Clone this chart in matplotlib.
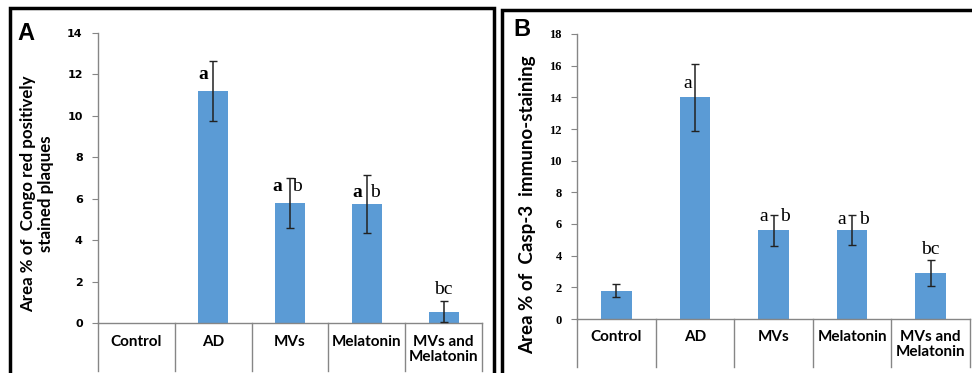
import matplotlib
matplotlib.use("Agg")
import matplotlib.pyplot as plt
import matplotlib.patches as patches
import matplotlib.transforms as mtransforms

groups = ["Control", "AD", "MVs", "Melatonin", "MVs and\nMelatonin"]

# panel A: Congo red
mean_a = [0.0, 11.2, 5.8, 5.75, 0.55]
err_a = [0.0, 1.45, 1.2, 1.4, 0.5]
# panel B: Casp-3
mean_b = [1.8, 14.0, 5.6, 5.6, 2.9]
err_b = [0.4, 2.1, 1.0, 0.95, 0.8]

# significance letters: (group, text, bold, y)
letters_a = [(1, "a", True, 12.0), (2, "a", True, 6.6), (2, "b", False, 6.6),
             (3, "a", True, 6.3), (3, "b", False, 6.3), (4, "bc", False, 1.6)]
letters_b = [(1, "a", False, 14.9), (2, "a", False, 6.45), (2, "b", False, 6.45),
             (3, "a", False, 6.3), (3, "b", False, 6.3), (4, "bc", False, 4.4)]
# x offsets for letters in category units
offs_a = [-0.13, -0.16, 0.09, -0.13, 0.10, 0.0]
offs_b = [-0.09, -0.12, 0.15, -0.13, 0.15, 0.0]

bar_color = "#5B9BD5"
axis_gray = "#868686"

fig = plt.figure(figsize=(9.72, 3.73), dpi=100)


def panel(rect, means, errs, ymax, ystep, letters, offs, tickfont, ticksize, line_drop):
    ax = fig.add_axes(rect)
    x = range(len(groups))
    ax.bar(x, means, width=0.39, color=bar_color, zorder=2)
    for xi, m, e in zip(x, means, errs):
        if e > 0:
            ax.errorbar(xi, m, yerr=e, fmt="none", ecolor="#222222",
                        elinewidth=1.1, capsize=3, capthick=1.0, zorder=3)
    ax.set_xlim(-0.5, len(groups) - 0.5)
    ax.set_ylim(0, ymax)
    ax.set_yticks(range(0, ymax + 1, ystep))
    for s in ["top", "right"]:
        ax.spines[s].set_visible(False)
    for s in ["left", "bottom"]:
        ax.spines[s].set_color(axis_gray)
        ax.spines[s].set_linewidth(1.0)
    ax.tick_params(axis="y", length=4, color=axis_gray, pad=7)
    ax.tick_params(axis="x", length=0, labelbottom=False)
    for lab in ax.get_yticklabels():
        lab.set_fontfamily(tickfont)
        lab.set_fontweight("bold")
        lab.set_fontsize(ticksize)

    # category table below axis
    trans = mtransforms.blended_transform_factory(ax.transData, ax.transAxes)
    for b in [i - 0.5 for i in range(len(groups) + 1)]:
        ax.plot([b, b], [0, -line_drop], transform=trans, color=axis_gray,
                lw=1.0, clip_on=False)
    for i, g in enumerate(groups):
        ax.text(i, -0.04, g, transform=trans, ha="center", va="top",
                fontsize=11, fontweight="bold", family="Lato",
                linespacing=1.1)

    for (gi, txt, bold, yv), off in zip(letters, offs):
        ax.text(gi + off, yv, txt, ha="center", va="center",
                family="Liberation Serif", fontsize=14,
                fontweight="bold" if bold else "normal", zorder=4)
    return ax


axA = panel([98 / 972, 50 / 373, 384 / 972, 290 / 373], mean_a, err_a, 14, 2,
            letters_a, offs_a, "DejaVu Sans", 8, 0.165)
axA.set_ylabel("Area % of  Congo red positively\nstained plaques",
               fontsize=12.2, fontweight="bold", family="Lato",
               linespacing=1.15)
axA.yaxis.set_label_coords(-0.114, 0.445)

axB = panel([577 / 972, 54 / 373, 393 / 972, 285 / 373], mean_b, err_b, 18, 2,
            letters_b, offs_b, "Liberation Serif", 9, 0.17)
axB.set_ylabel("Area % of  Casp-3  immuno-staining",
               fontsize=13.5, fontweight="bold", family="Lato")
axB.yaxis.set_label_coords(-0.104, 0.40)

# panel frames
fig.patches.append(patches.Rectangle((10 / 972, -0.05), 484 / 972, 0.05 + 365 / 373,
                                     transform=fig.transFigure, fill=False,
                                     lw=2.5, ec="black"))
fig.patches.append(patches.Rectangle((502 / 972, -0.05), 0.6, 0.05 + 363 / 373,
                                     transform=fig.transFigure, fill=False,
                                     lw=2.5, ec="black"))

fig.text(17 / 972, 1 - 33 / 373, "A", fontsize=17, fontweight="bold",
         family="Liberation Sans", va="center", ha="left")
fig.text(513 / 972, 1 - 30 / 373, "B", fontsize=17, fontweight="bold",
         family="Liberation Sans", va="center", ha="left")

fig.savefig("out.png", dpi=100)
